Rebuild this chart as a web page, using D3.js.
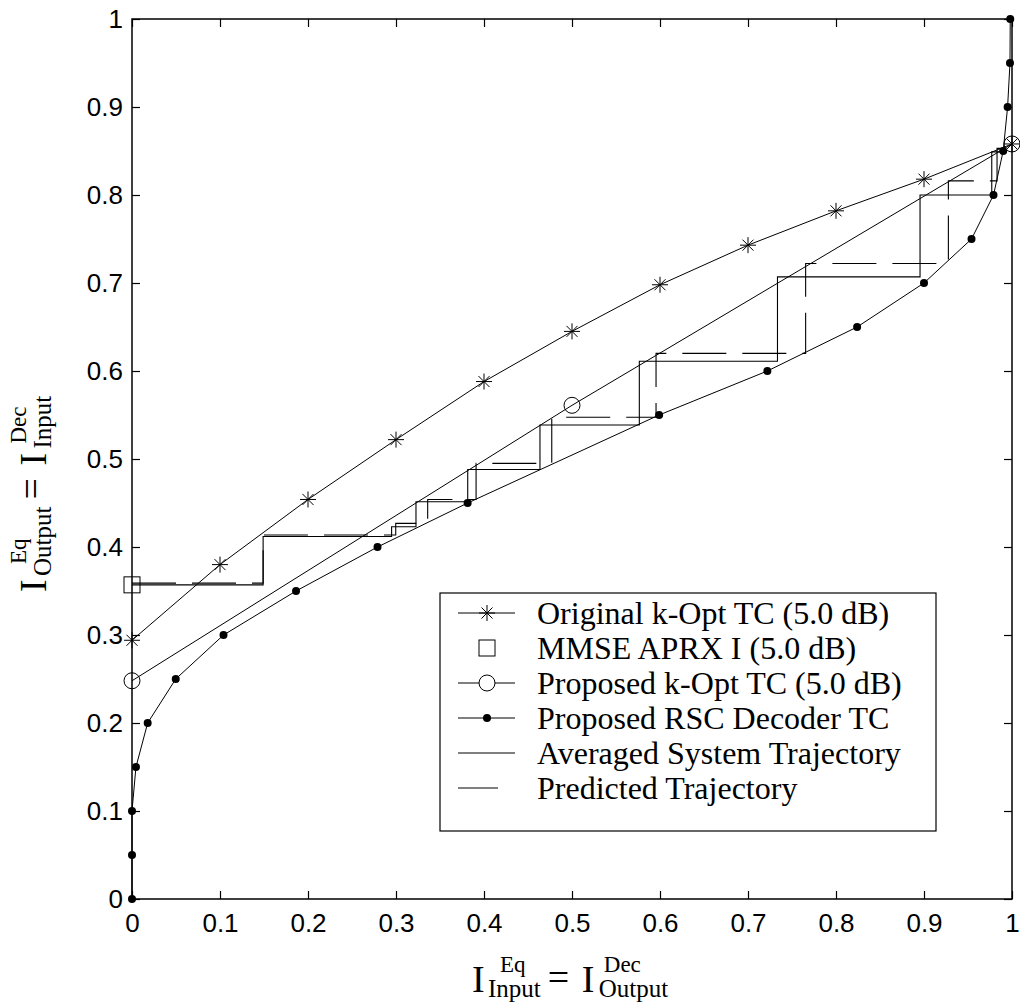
<!DOCTYPE html>
<html>
<head>
<meta charset="utf-8">
<script src="https://cdn.jsdelivr.net/npm/d3@7"></script>
<style>
  body { margin: 0; background: #fff; }
  svg { display: block; }
</style>
</head>
<body>
<div id="chart-area"></div>
<script>
// tick labels
var xTicks = [0, 0.1, 0.2, 0.3, 0.4, 0.5, 0.6, 0.7, 0.8, 0.9, 1];
var xTickLabels = ["0", "0.1", "0.2", "0.3", "0.4", "0.5", "0.6", "0.7", "0.8", "0.9", "1"];
var yTicks = [0, 0.1, 0.2, 0.3, 0.4, 0.5, 0.6, 0.7, 0.8, 0.9, 1];
var yTickLabels = ["0", "0.1", "0.2", "0.3", "0.4", "0.5", "0.6", "0.7", "0.8", "0.9", "1"];

// Original k-Opt TC (5.0 dB)
var origX = [0, 0.1, 0.2, 0.3, 0.4, 0.5, 0.6, 0.7, 0.8, 0.9, 1];
var origY = [0.294, 0.38, 0.454, 0.522, 0.588, 0.645, 0.698, 0.743, 0.782, 0.818, 0.858];

// MMSE APRX I (5.0 dB)
var mmseX = [0];
var mmseY = [0.357];

// Proposed k-Opt TC (5.0 dB)
var propX = [0, 0.5, 1];
var propY = [0.248, 0.561, 0.858];

// Proposed RSC Decoder TC (axes swapped)
var decX = [0, 0, 0, 0.0045, 0.0178, 0.0497, 0.104, 0.1864, 0.279, 0.3814, 0.599, 0.722, 0.824, 0.9, 0.954, 0.979, 0.99, 0.995, 0.9977, 0.998];
var decY = [0, 0.05, 0.1, 0.15, 0.2, 0.25, 0.3, 0.35, 0.4, 0.45, 0.55, 0.6, 0.65, 0.7, 0.75, 0.8, 0.85, 0.9, 0.95, 1.0];

// Averaged System Trajectory (solid staircase)
var avgX = [0, 0.149, 0.149, 0.295, 0.295, 0.3227, 0.3227, 0.3815, 0.3815, 0.4636, 0.4636, 0.5765, 0.5765, 0.7335, 0.7335, 0.8955, 0.8955, 0.977, 0.977, 0.99];
var avgY = [0.357, 0.357, 0.412, 0.412, 0.423, 0.423, 0.4515, 0.4515, 0.488, 0.488, 0.5386, 0.5386, 0.611, 0.611, 0.707, 0.707, 0.8, 0.8, 0.849, 0.849];

// Predicted Trajectory (dashed staircase)
var predX = [0, 0.149, 0.149, 0.2997, 0.2997, 0.336, 0.336, 0.391, 0.391, 0.477, 0.477, 0.5955, 0.5955, 0.7655, 0.7655, 0.9277, 0.9277, 0.983, 0.983, 0.992];
var predY = [0.359, 0.359, 0.4136, 0.4136, 0.4269, 0.4269, 0.454, 0.454, 0.495, 0.495, 0.5474, 0.5474, 0.62, 0.62, 0.7222, 0.7222, 0.816, 0.816, 0.853, 0.853];

var legendLabels = [
  "Original k-Opt TC (5.0 dB)",
  "MMSE APRX I (5.0 dB)",
  "Proposed k-Opt TC (5.0 dB)",
  "Proposed RSC Decoder TC",
  "Averaged System Trajectory",
  "Predicted Trajectory"
];

var width = 1020, height = 1007;
var mLeft = 132, mRight = 1012, mTop = 19, mBottom = 899;

var svg = d3.select("#chart-area")
  .append("svg")
  .attr("width", width)
  .attr("height", height);

var x = d3.scaleLinear().domain([0, 1]).range([mLeft, mRight]);
var y = d3.scaleLinear().domain([0, 1]).range([mBottom, mTop]);

var zip = (xs, ys) => xs.map((v, i) => [v, ys[i]]);
var line = d3.line().x(d => x(d[0])).y(d => y(d[1]));

// axes, ticks pointing inward
var fmtX = d => xTickLabels[xTicks.indexOf(d)];
var fmtY = d => yTickLabels[yTicks.indexOf(d)];

var gx = svg.append("g")
  .attr("transform", "translate(0," + mBottom + ")")
  .call(d3.axisBottom(x).tickValues(xTicks).tickFormat(fmtX).tickSizeInner(-8).tickSizeOuter(0).tickPadding(15));
var gy = svg.append("g")
  .attr("transform", "translate(" + mLeft + ",0)")
  .call(d3.axisLeft(y).tickValues(yTicks).tickFormat(fmtY).tickSizeInner(-8).tickSizeOuter(0).tickPadding(9));
var gt = svg.append("g")
  .attr("transform", "translate(0," + mTop + ")")
  .call(d3.axisTop(x).tickValues(xTicks).tickFormat("").tickSizeInner(-8).tickSizeOuter(0));
var gr = svg.append("g")
  .attr("transform", "translate(" + mRight + ",0)")
  .call(d3.axisRight(y).tickValues(yTicks).tickFormat("").tickSizeInner(-8).tickSizeOuter(0));

[gx, gy, gt, gr].forEach(g => {
  g.select(".domain").remove();
  g.selectAll(".tick line").attr("stroke", "#000").attr("stroke-width", 1.2);
  g.selectAll(".tick text")
    .attr("fill", "#000")
    .style("font-family", "'Liberation Sans', Arial, sans-serif")
    .style("font-size", "26px");
});

svg.append("rect")
  .attr("x", mLeft).attr("y", mTop)
  .attr("width", mRight - mLeft).attr("height", mBottom - mTop)
  .attr("fill", "none").attr("stroke", "#000").attr("stroke-width", 1.5);

// staircases
svg.append("path")
  .attr("d", line(zip(avgX, avgY)))
  .attr("fill", "none").attr("stroke", "#000").attr("stroke-width", 1.1);
svg.append("path")
  .attr("d", line(zip(predX, predY)))
  .attr("fill", "none").attr("stroke", "#000").attr("stroke-width", 1.1)
  .attr("stroke-dasharray", "44,16");

// curves
svg.append("path")
  .attr("d", line(zip(origX, origY)))
  .attr("fill", "none").attr("stroke", "#000").attr("stroke-width", 1);
svg.append("path")
  .attr("d", line(zip(propX, propY)))
  .attr("fill", "none").attr("stroke", "#000").attr("stroke-width", 1);
svg.append("path")
  .attr("d", line(zip(decX, decY)))
  .attr("fill", "none").attr("stroke", "#000").attr("stroke-width", 1);

var starPath = "M-8,0H8M0,-8V8M-5.5,-5.5L5.5,5.5M-5.5,5.5L5.5,-5.5";

svg.selectAll(".star")
  .data(zip(origX, origY))
  .enter()
  .append("path")
  .attr("class", "star")
  .attr("transform", d => "translate(" + x(d[0]) + "," + y(d[1]) + ")")
  .attr("d", starPath)
  .attr("stroke", "#000").attr("stroke-width", 1).attr("fill", "none");

svg.selectAll(".sq")
  .data(zip(mmseX, mmseY))
  .enter()
  .append("rect")
  .attr("class", "sq")
  .attr("x", d => x(d[0]) - 8).attr("y", d => y(d[1]) - 8)
  .attr("width", 16).attr("height", 16)
  .attr("fill", "none").attr("stroke", "#000").attr("stroke-width", 1);

svg.selectAll(".circ")
  .data(zip(propX, propY))
  .enter()
  .append("circle")
  .attr("class", "circ")
  .attr("cx", d => x(d[0])).attr("cy", d => y(d[1]))
  .attr("r", 8)
  .attr("fill", "none").attr("stroke", "#000").attr("stroke-width", 1);

svg.selectAll(".dot")
  .data(zip(decX, decY))
  .enter()
  .append("circle")
  .attr("class", "dot")
  .attr("cx", d => x(d[0])).attr("cy", d => y(d[1]))
  .attr("r", 4)
  .attr("fill", "#000");

// legend
var lg = svg.append("g").attr("transform", "translate(440,593)");
lg.append("rect")
  .attr("width", 496).attr("height", 238)
  .attr("fill", "#fff").attr("stroke", "#000").attr("stroke-width", 1.2);

var rows = lg.selectAll(".row")
  .data(legendLabels)
  .enter()
  .append("g")
  .attr("class", "row")
  .attr("transform", (d, i) => "translate(0," + (20 + i * 35) + ")");

rows.append("text")
  .attr("x", 97)
  .attr("dy", "0.35em")
  .style("font-family", "'Liberation Serif', 'Times New Roman', serif")
  .style("font-size", "32px")
  .text(d => d);

rows.each(function (d, i) {
  var r = d3.select(this);
  if (i !== 1) {
    r.append("line")
      .attr("x1", 18).attr("x2", i === 5 ? 58 : 75)
      .attr("stroke", "#000").attr("stroke-width", 1);
  }
  if (i === 0) r.append("path").attr("transform", "translate(47,0)").attr("d", starPath).attr("stroke", "#000").attr("fill", "none");
  if (i === 1) r.append("rect").attr("x", 39).attr("y", -8).attr("width", 16).attr("height", 16).attr("fill", "none").attr("stroke", "#000");
  if (i === 2) r.append("circle").attr("cx", 47).attr("r", 8).attr("fill", "#fff").attr("stroke", "#000");
  if (i === 3) r.append("circle").attr("cx", 47).attr("r", 4).attr("fill", "#000");
});

// axis labels  I^sup_sub = I^sup_sub
var serif = "'Liberation Serif', 'Times New Roman', serif";
function eqLabel(g, supA, subA, supB, subB) {
  var big = 38, supS = 23, subS = 25;
  var parts = [];
  parts.push({ t: "I", x: 0, y: 0, s: big });
  parts.push({ t: supA, x: 28, y: -20, s: supS });
  var sa = g.append("text").style("font-family", serif).style("font-size", subS + "px").text(subA);
  var wa = sa.node().getComputedTextLength();
  sa.remove();
  var eqX = 16 + wa + 7;
  parts.push({ t: subA, x: 16, y: 5, s: subS });
  parts.push({ t: "=", x: eqX, y: -2, s: big });
  parts.push({ t: "I", x: eqX + 34, y: 0, s: big });
  parts.push({ t: supB, x: eqX + 56, y: -20, s: supS });
  parts.push({ t: subB, x: eqX + 51, y: 5, s: subS });
  g.selectAll("text")
    .data(parts)
    .enter()
    .append("text")
    .attr("x", d => d.x).attr("y", d => d.y)
    .style("font-family", serif)
    .style("font-size", d => d.s + "px")
    .text(d => d.t);
}

eqLabel(svg.append("g").attr("transform", "translate(472,992)"), "Eq", "Input", "Dec", "Output");
eqLabel(svg.append("g").attr("transform", "translate(46,592) rotate(-90)"), "Eq", "Output", "Dec", "Input");
</script>
</body>
</html>
